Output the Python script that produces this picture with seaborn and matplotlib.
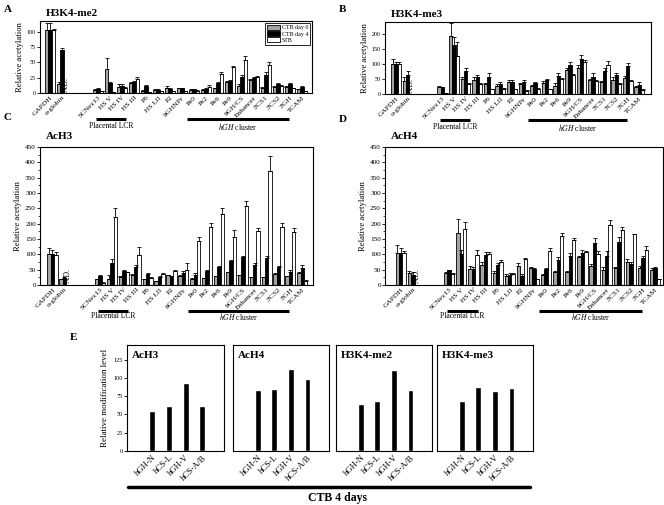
import numpy as np
import pandas as pd
import matplotlib
matplotlib.use("Agg")
import matplotlib.pyplot as plt
import matplotlib.transforms as mtransforms
from matplotlib.lines import Line2D
from matplotlib.ticker import MultipleLocator
import seaborn as sns

# ---------------- data ----------------
loci = ["GAPDH", "α-globin", "SCNex13", "HS V", "HS IV", "HS III", "P6", "HS I,II",
        "P2", "hGHNPr", "Pe0", "Pe2", "Pe6", "Pe9", "hGH/CS", "Enhancer",
        "3'CS1", "3'CS2", "3'GH", "TCAM"]
conditions = ["CTB day 0", "CTB day 4", "STB"]
spacers = [" ", "  "]

# Panel A: H3K4-me2
a_day0 = [103, 15, 5, 39, 10, 16, 4, 5, 9, 8, 5, 5, 8, 18, 12, 21, 9, 10, 10, 6]
a_day0_err = [12, 3, 1, 18, 5, 2, 1, 1, 3, 1, 1, 1, 1, 2, 3, 2, 1, 1, 2, 1]
a_day4 = [103, 70, 7, 17, 12, 18, 11, 5, 7, 8, 6, 7, 16, 20, 26, 25, 30, 14, 14, 10]
a_day4_err = [12, 4, 1, 1, 2, 2, 2, 1, 1, 1, 1, 1, 2, 2, 3, 2, 5, 2, 3, 2]
a_stb = [103, np.nan, 3, 2, 8, 23, 2, 3, 3, 3, 4, 10, 31, 42, 54, 27, 46, 12, 8, 3]
a_stb_err = [2, 0, 0, 0, 2, 4, 0, 0, 0, 0, 1, 3, 3, 3, 6, 1, 4, 1, 1, 0]

# Panel B: H3K4-me3
b_day0 = [100, 42, 22, 192, 50, 45, 33, 25, 40, 33, 25, 35, 28, 80, 85, 45, 40, 48, 52, 22]
b_day0_err = [18, 15, 3, 43, 8, 10, 4, 8, 5, 5, 5, 8, 8, 5, 10, 5, 4, 8, 8, 5]
b_day4 = [100, 62, 22, 162, 75, 56, 58, 34, 40, 40, 35, 48, 60, 95, 115, 58, 75, 62, 92, 30]
b_day4_err = [5, 16, 2, 27, 10, 8, 12, 5, 5, 5, 5, 3, 10, 10, 15, 12, 10, 8, 10, 10]
b_stb = [100, np.nan, 2, 128, 33, 33, 15, 18, 15, 10, 17, 15, 50, 62, 108, 42, 97, 33, 42, 13]
b_stb_err = [5, 0, 0, 45, 2, 2, 2, 3, 2, 2, 2, 2, 3, 3, 5, 3, 12, 2, 3, 3]

# Panel C: AcH3
c_day0 = [100, 18, 18, 20, 25, 32, 18, 12, 32, 30, 20, 22, 28, 42, 32, 25, 25, 35, 28, 38]
c_day0_err = [20, 2, 2, 12, 3, 3, 2, 2, 2, 2, 2, 2, 2, 2, 2, 2, 2, 3, 2, 5]
c_day4 = [100, 22, 28, 72, 45, 60, 35, 25, 28, 40, 33, 45, 58, 77, 90, 65, 88, 58, 42, 55]
c_day4_err = [15, 5, 5, 12, 3, 5, 5, 5, 2, 5, 5, 3, 5, 5, 5, 7, 7, 5, 7, 10]
c_stb = [98, np.nan, 8, 222, 42, 98, 22, 35, 45, 50, 143, 190, 232, 155, 257, 175, 373, 190, 172, 12]
c_stb_err = [10, 0, 2, 30, 2, 25, 3, 5, 3, 22, 12, 13, 20, 25, 17, 12, 48, 13, 13, 3]

# Panel D: AcH4
d_day0 = [105, 38, 40, 168, 52, 65, 40, 30, 62, 55, 33, 43, 42, 90, 62, 50, 57, 75, 55, 50]
d_day0_err = [25, 8, 3, 48, 10, 10, 5, 5, 10, 5, 3, 3, 5, 5, 5, 8, 3, 10, 8, 5]
d_day4 = [105, 33, 48, 100, 53, 97, 65, 33, 30, 52, 52, 80, 95, 105, 137, 93, 140, 70, 87, 55]
d_day4_err = [15, 8, 2, 15, 5, 10, 8, 5, 5, 5, 3, 12, 8, 10, 15, 18, 17, 5, 8, 5]
d_stb = [105, np.nan, 35, 182, 98, 102, 75, 35, 85, 18, 112, 160, 147, 107, 100, 196, 180, 165, 115, 18]
d_stb_err = [5, 0, 3, 22, 15, 5, 5, 3, 2, 3, 10, 10, 5, 5, 10, 15, 8, 2, 13, 3]

# Panel E: CTB 4 days
e_genes = ["hGH-N", "hCS-L", "hGH-V", "hCS-A/B"]
e_ach3 = [55, 61, 93, 62]
e_ach4 = [84, 85, 112, 98]
e_me2 = [64, 68, 111, 84]
e_me3 = [69, 88, 82, 86]

# ---------------- style ----------------
sns.set_style("ticks")
plt.rcParams["font.family"] = ["Liberation Serif", "DejaVu Serif"]
plt.rcParams["mathtext.fontset"] = "stix"
plt.rcParams["axes.linewidth"] = 0.8
plt.rcParams["text.color"] = "black"
plt.rcParams["axes.labelcolor"] = "black"
plt.rcParams["xtick.color"] = "black"
plt.rcParams["ytick.color"] = "black"
plt.rcParams["axes.edgecolor"] = "black"

palette = {"CTB day 0": "#a3a3a3", "CTB day 4": "#000000", "STB": "#ffffff"}
order = loci[:2] + spacers + loci[2:]
BAR_WIDTH = 0.85

fig = plt.figure(figsize=(6.64, 5.05), dpi=100)
W, H = 664.0, 505.0


def add_ax(left, top, right, bottom):
    return fig.add_axes([left / W, 1 - bottom / H, (right - left) / W, (bottom - top) / H])


def draw_panel(ax, vals, errs, title, ymax, major, minor, xlim, ytick_fs,
               line_y, text_y, legend=False):
    rows = []
    for cond, v, e in zip(conditions, vals, errs):
        for loc, vv, ee in zip(loci, v, e):
            if not np.isnan(vv):
                rows.append({"locus": loc, "condition": cond, "value": vv, "err": ee})
    df = pd.DataFrame(rows)
    sns.barplot(data=df, x="locus", y="value", hue="condition", order=order,
                hue_order=conditions, palette=palette, edgecolor="black",
                linewidth=0.6, errorbar=None, width=BAR_WIDTH, saturation=1,
                ax=ax, legend=legend)
    lookup = {(r.locus, r.condition): r.err for r in df.itertuples()}
    bar_conts = list(ax.containers)[:len(conditions)]
    for cont, cond in zip(bar_conts, conditions):
        xs, ys, es = [], [], []
        for p in cont.patches:
            xc = p.get_x() + p.get_width() / 2
            loc = order[int(round(xc))]
            xs.append(xc)
            ys.append(p.get_height())
            es.append(lookup[(loc, cond)])
        ax.errorbar(xs, ys, yerr=[np.zeros(len(es)), es], fmt="none",
                    ecolor="black", elinewidth=0.6, capsize=1.3, capthick=0.6, zorder=1)
    ax.set_ylim(0, ymax)
    ax.set_xlim(*xlim)
    ax.yaxis.set_major_locator(MultipleLocator(major))
    if minor:
        ax.yaxis.set_minor_locator(MultipleLocator(minor))
    ax.tick_params(axis="y", which="major", labelsize=ytick_fs, length=2, width=0.6, pad=1)
    ax.tick_params(axis="y", which="minor", length=1.2, width=0.5)
    ax.tick_params(axis="x", length=0, labelsize=5.3, pad=1.5)
    ax.set_xticks(range(len(order)))
    ax.set_xticklabels(order, rotation=45, ha="right", rotation_mode="anchor")
    ax.set_xlabel("")
    ax.set_ylabel("Relative acetylation", fontsize=6.2, labelpad=2)
    for s in ax.spines.values():
        s.set_visible(True)
        s.set_linewidth(0.8)
    ax.text(0.02, 1.04, title, transform=ax.transAxes, fontsize=8, fontweight="bold",
            ha="left", va="bottom")
    trans = mtransforms.blended_transform_factory(ax.transData, ax.transAxes)
    # N.D. marker in the (missing) STB slot of alpha-globin
    nd_x = order.index("α-globin") + BAR_WIDTH / len(conditions)
    nd = ax.text(nd_x, 0.015, "N.D.", transform=trans, rotation=90, fontsize=5.5,
                 ha="center", va="bottom", color="black", zorder=10, clip_on=False)
    nd.set_in_layout(False)
    i_scn, i_hs4 = order.index("SCNex13"), order.index("HS IV")
    i_npr, i_gh = order.index("hGHNPr"), order.index("3'GH")
    x0, x1 = i_scn - 0.2, i_hs4 + 0.35
    ax.plot([x0, x1], [line_y, line_y], transform=trans, color="black", lw=2.2,
            clip_on=False, solid_capstyle="butt")
    ax.text((x0 + x1) / 2, text_y, "Placental LCR", transform=trans, fontsize=5.5,
            ha="center", va="center")
    x0, x1 = i_npr + 0.4, i_gh - 0.1
    ax.plot([x0, x1], [line_y, line_y], transform=trans, color="black", lw=2.2,
            clip_on=False, solid_capstyle="butt")
    ax.text((x0 + x1) / 2, text_y, r"$\mathit{hGH}$ cluster", transform=trans,
            fontsize=5.5, ha="center", va="center")
    if legend:
        handles, labels = ax.get_legend_handles_labels()
        ax.legend(handles, labels, loc="upper right", fontsize=4.3, frameon=True,
                  fancybox=False, edgecolor="black", framealpha=1,
                  handlelength=2.2, handleheight=0.9, borderpad=0.3,
                  labelspacing=0.15, handletextpad=0.3, borderaxespad=0.3)
        ax.get_legend().get_frame().set_linewidth(0.6)


axA = add_ax(40, 21, 312, 93)
draw_panel(axA, [a_day0, a_day4, a_stb], [a_day0_err, a_day4_err, a_stb_err],
           "H3K4-me2", 118, 25, None, (-0.85, 21.85), 4.3, -0.36, -0.46, legend=True)
axB = add_ax(385, 22, 651, 94)
draw_panel(axB, [b_day0, b_day4, b_stb], [b_day0_err, b_day4_err, b_stb_err],
           "H3K4-me3", 240, 50, None, (-0.95, 22.0), 4.3, -0.36, -0.46)
axC = add_ax(40, 147, 313, 285)
draw_panel(axC, [c_day0, c_day4, c_stb], [c_day0_err, c_day4_err, c_stb_err],
           "AcH3", 450, 50, 25, (-1.05, 21.9), 5.2, -0.188, -0.225)
axD = add_ax(385, 147, 663, 285)
draw_panel(axD, [d_day0, d_day4, d_stb], [d_day0_err, d_day4_err, d_stb_err],
           "AcH4", 450, 50, 25, (-1.3, 21.65), 5.2, -0.188, -0.225)

# ---------------- panel E ----------------
e_sets = [("AcH3", e_ach3), ("AcH4", e_ach4), ("H3K4-me2", e_me2), ("H3K4-me3", e_me3)]
e_boxes = [(127, 224), (233, 329), (336, 432), (437, 533)]
for k, ((name, vals), (l, r)) in enumerate(zip(e_sets, e_boxes)):
    ax = add_ax(l, 345, r, 451)
    dfe = pd.DataFrame({"gene": e_genes, "value": vals})
    sns.barplot(data=dfe, x="gene", y="value", order=e_genes, color="black",
                saturation=1, width=0.36, errorbar=None, ax=ax)
    ax.set_xlim(-1.5, 4.3)
    ax.set_ylim(0, 145)
    ax.set_xlabel("")
    ax.set_xticks(range(len(e_genes)))
    ax.set_xticklabels(e_genes, rotation=45, ha="right", rotation_mode="anchor")
    ax.tick_params(axis="x", length=0, labelsize=6.2, pad=2)
    for s in ax.spines.values():
        s.set_visible(True)
        s.set_linewidth(0.8)
    ax.text(0.05, 0.94, name, transform=ax.transAxes, fontsize=8, fontweight="bold",
            ha="left", va="top")
    if k == 0:
        ax.set_yticks([0, 25, 50, 75, 100, 125])
        ax.tick_params(axis="y", labelsize=4.5, length=2, width=0.6, pad=1)
        ax.set_ylabel("Relative modification level", fontsize=6.5, labelpad=3)
    else:
        ax.set_yticks([])
        ax.set_ylabel("")

fig.add_artist(Line2D([128 / W, 530 / W], [1 - 487 / H, 1 - 487 / H], color="black",
                      lw=2.5, transform=fig.transFigure))
fig.text(337 / W, 1 - 498 / H, "CTB 4 days", fontsize=8.5, fontweight="bold",
         ha="center", va="center")

# panel letters
for letter, x, y in [("A", 4, 9), ("B", 339, 10), ("C", 4, 118), ("D", 339, 119), ("E", 70, 338)]:
    fig.text(x / W, 1 - y / H, letter, fontsize=8, fontweight="bold", ha="left", va="center")

fig.savefig("out.png", dpi=100)
